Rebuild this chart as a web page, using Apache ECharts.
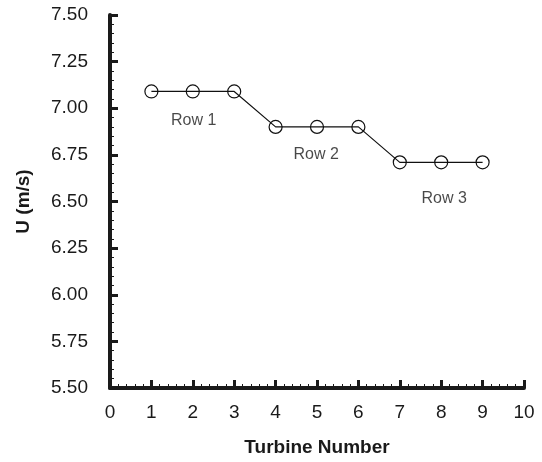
<!DOCTYPE html>
<html>
<head>
<meta charset="utf-8">
<script src="https://cdn.jsdelivr.net/npm/echarts@6/dist/echarts.min.js"></script>
<style>
  html, body { margin: 0; padding: 0; background: #fff; }
  #main { width: 542px; height: 462px; }
</style>
</head>
<body>
<div id="main"></div>
<script>
// turbine numbers and wind speeds
var turbines = [1, 2, 3, 4, 5, 6, 7, 8, 9];
var speeds = [7.09, 7.09, 7.09, 6.90, 6.90, 6.90, 6.71, 6.71, 6.71];
// row annotations [x, y, text]
var rowLabels = [
  [2.02, 6.935, "Row 1"],
  [4.98, 6.75, "Row 2"],
  [8.07, 6.515, "Row 3"]
];

var chart = echarts.init(document.getElementById("main"), null, { renderer: "canvas" });
var font = "'Liberation Sans', Arial, sans-serif";
var ink = "#1a1a1a";

chart.setOption({
  animation: false,
  grid: { left: 110, right: 18, top: 15, bottom: 70 },
  xAxis: {
    type: "value",
    min: 0,
    max: 10,
    interval: 1,
    name: "Turbine Number",
    nameLocation: "middle",
    nameGap: 50,
    nameTextStyle: { fontFamily: font, fontSize: 19, fontWeight: "bold", color: ink },
    axisLine: { show: true, lineStyle: { color: ink, width: 4 } },
    axisTick: { show: true, inside: true, length: 8, lineStyle: { color: ink, width: 3 } },
    minorTick: { show: true, splitNumber: 5, length: 4, lineStyle: { color: ink, width: 1 } },
    axisLabel: { fontFamily: font, fontSize: 19, color: ink, margin: 15 },
    splitLine: { show: false }
  },
  yAxis: {
    type: "value",
    min: 5.5,
    max: 7.5,
    interval: 0.25,
    name: "U (m/s)",
    nameLocation: "middle",
    nameGap: 77,
    nameTextStyle: { fontFamily: font, fontSize: 19, fontWeight: "bold", color: ink },
    axisLine: { show: true, lineStyle: { color: ink, width: 4 } },
    axisTick: { show: true, inside: true, length: 8, lineStyle: { color: ink, width: 3 } },
    minorTick: { show: true, splitNumber: 5, length: 4, lineStyle: { color: ink, width: 1 } },
    axisLabel: {
      fontFamily: font, fontSize: 19, color: ink, margin: 22,
      formatter: function (v) { return v.toFixed(2); }
    },
    splitLine: { show: false }
  },
  series: [
    {
      type: "line",
      data: turbines.map(function (t, i) { return [t, speeds[i]]; }),
      symbol: "circle",
      symbolSize: 13,
      showAllSymbol: true,
      lineStyle: { color: "#111", width: 1.2 },
      itemStyle: { color: "rgba(255,255,255,0)", borderColor: "#111", borderWidth: 1.2 }
    },
    {
      type: "scatter",
      data: rowLabels.map(function (r) { return [r[0], r[1], r[2]]; }),
      symbolSize: 0,
      label: {
        show: true,
        position: "inside",
        formatter: function (p) { return p.data[2]; },
        fontFamily: font,
        fontSize: 16,
        color: ink
      }
    }
  ]
});
</script>
</body>
</html>
